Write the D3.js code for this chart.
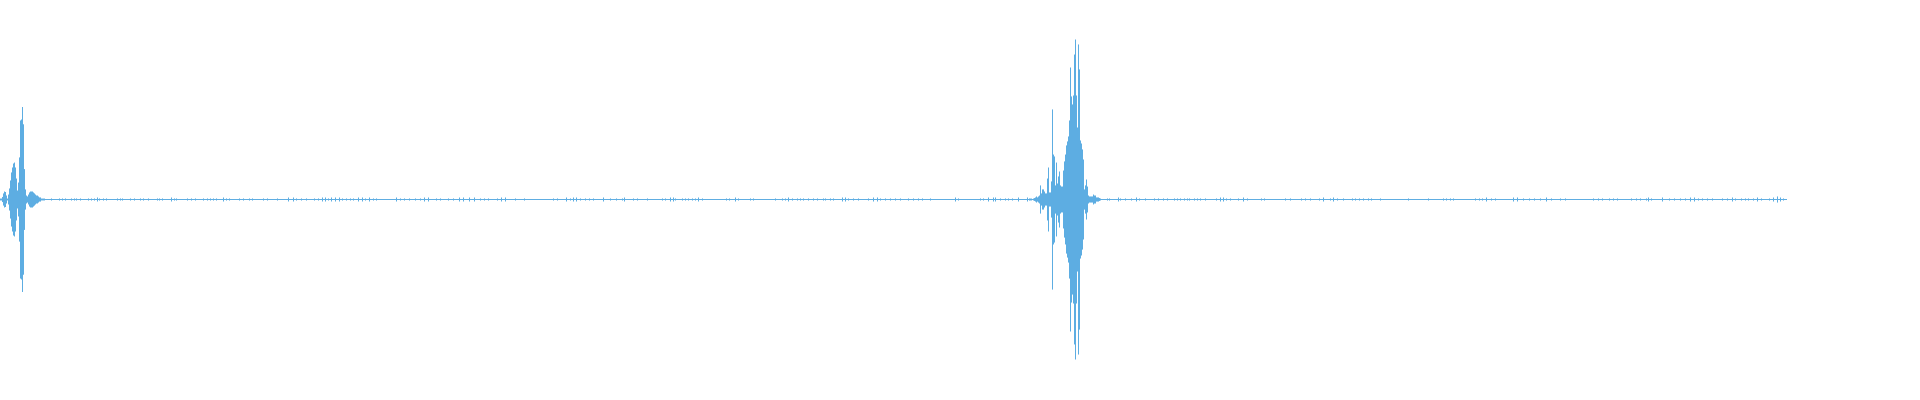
<!DOCTYPE html>
<html>
<head>
<meta charset="utf-8">
<script src="https://cdn.jsdelivr.net/npm/d3@7/dist/d3.min.js"></script>
<style>
html,body{margin:0;padding:0;background:#fff;}
svg{display:block;}
</style>
</head>
<body>
<svg id="chart" width="1920" height="400"></svg>
<script>
// ---- data (normalised peak amplitude per sample column) ----
const sampleCount = 1787;
const baseAmp = 0.0031;

const burst1Start = 0;
const burst1 = [0.006,0.006,0.016,0.038,0.05,0.047,0.025,0.006,0.031,0.069,0.119,0.169,0.2,0.225,0.231,0.2,0.131,0.056,0.106,0.263,0.494,0.5,0.578,0.47,0.19,0.063,0.025,0.019,0.031,0.044,0.05,0.05,0.05,0.044,0.038,0.031,0.025,0.025,0.019,0.013,0.013,0.006,0.006,0.006,0.006,0.003];

const burst2Start = 1030;
const burst2 = [0.006,0.006,0.003,0.006,0.009,0.013,0.019,0.013,0.019,0.025,0.088,0.038,0.063,0.063,0.05,0.038,0.038,0.131,0.2,0.044,0.044,0.113,0.563,0.281,0.269,0.088,0.231,0.1,0.144,0.175,0.088,0.081,0.081,0.181,0.238,0.281,0.338,0.363,0.394,0.494,0.825,0.644,0.594,0.65,0.906,1.0,0.65,0.45,0.969,0.813,0.369,0.35,0.313,0.25,0.063,0.088,0.125,0.081,0.025,0.019,0.019,0.019,0.019,0.031,0.025,0.025,0.013,0.013,0.013,0.009,0.006];

// small noise bumps along the quiet stretches: [sample, amplitude]
const noise = [
[51,.0065],[59,.0065],[62,.0065],[65,.0065],[71,.0065],[74,.0065],[76,.0065],[80,.0065],[88,.0065],[91,.0065],[94,.0065],[97,.0125],[99,.0065],[103,.0065],[106,.0065],[117,.0065],[120,.0065],[122,.0065],[130,.0065],[134,.0065],[140,.0065],[143,.0065],[148,.0065],[157,.0065],[159,.0065],[162,.0065],[171,.0125],[174,.0065],[176,.0065],[187,.0065],[191,.0065],[195,.0065],[203,.0065],[207,.0065],[210,.0065],[213,.0065],[216,.0065],[223,.0125],[226,.0065],[229,.0065],[239,.0065],[243,.0065],[249,.0065],[252,.0065],[263,.0065],[267,.0065],[277,.0065],[288,.0125],[293,.0125],[296,.0065],[301,.0065],[306,.0065],[314,.0065],[318,.0065],[322,.0125],[325,.0125],[328,.0065],[331,.0125],[335,.0125],[339,.0125],[342,.0065],[346,.0065],[350,.0065],[353,.0065],[358,.0125],[362,.0125],[365,.0065],[369,.0125],[373,.0065],[376,.0065],[396,.0125],[400,.0065],[404,.0065],[409,.0065],[415,.0065],[420,.0065],[424,.0125],[428,.0125],[436,.0065],[440,.0065],[448,.0065],[453,.0065],[459,.0125],[463,.0125],[469,.0125],[474,.0125],[480,.0065],[484,.0065],[488,.0065],[497,.0065],[501,.0125],[505,.0125],[515,.0065],[524,.0065],[553,.0065],[557,.0065],[566,.0125],[570,.0065],[573,.0125],[576,.0125],[580,.0065],[585,.0065],[589,.0065],[593,.0065],[603,.0125],[610,.0065],[616,.0065],[622,.0065],[624,.0125],[633,.0065],[637,.0065],
[647,.0065],[662,.0065],[665,.0065],[670,.0125],[673,.0125],[675,.0065],[682,.0065],[685,.0065],[688,.0065],[692,.0065],[695,.0065],[698,.0125],[702,.0065],[726,.0065],[729,.0065],[735,.0125],[738,.0065],[750,.0065],[753,.0065],[775,.0065],[782,.0065],[785,.0065],[788,.0125],[792,.0065],[797,.0065],[800,.0065],[803,.0065],[808,.0065],[813,.0065],[817,.0065],[823,.0065],[825,.0065],[830,.0065],[833,.0065],[842,.0125],[845,.0125],[848,.0065],[853,.0065],[858,.0065],[868,.0065],[873,.0125],[877,.0125],[880,.0065],[885,.0065],[890,.0065],[895,.0065],[900,.0065],[908,.0065],[913,.0065],[918,.0065],[922,.0065],[930,.0065],[955,.0125],[958,.0065],[980,.0065],[983,.0065],[988,.0125],[993,.0125],[995,.0125],[1000,.0065],[1005,.0065],[1008,.0065],[1012,.0065],[1018,.0125],[1027,.0125],[1029,.0065],
[1107,.0065],[1109,.0065],[1118,.0125],[1120,.0065],[1125,.0065],[1131,.0065],[1136,.0125],[1139,.0065],[1145,.0065],[1154,.0065],[1158,.0065],[1163,.0065],[1167,.0065],[1174,.0065],[1177,.0065],[1180,.0065],[1184,.0065],[1187,.0065],[1189,.0065],[1194,.0065],[1197,.0065],[1200,.0065],[1205,.0065],[1216,.0065],[1220,.0125],[1223,.0125],[1226,.0065],[1230,.0065],[1238,.0065],[1243,.0125],[1247,.0065],[1261,.0065],[1264,.0065],[1285,.0065],[1290,.0065],[1301,.0065],[1305,.0065],[1310,.0065],[1319,.0065],[1323,.0125],[1330,.0065],[1333,.0125],[1337,.0065],[1343,.0065],[1352,.0065],[1355,.0065],[1359,.0065],[1363,.0065],[1368,.0065],[1371,.0065],[1380,.0065],[1408,.0065],[1428,.0065],[1443,.0065],[1446,.0065],[1450,.0065],[1453,.0065],[1475,.0065],[1479,.0065],[1482,.0065],[1486,.0125],[1491,.0065],[1495,.0065],[1513,.0125],[1517,.0125],[1523,.0065],[1529,.0065],[1534,.0065],[1540,.0065],[1546,.0125],[1551,.0065],[1560,.0065],[1565,.0065],[1593,.0065],[1598,.0065],[1602,.0065],[1609,.0065],[1613,.0065],[1617,.0065],[1631,.0065],[1636,.0065],[1640,.0065],[1646,.0065],[1648,.0125],[1651,.0065],[1662,.0125],[1669,.0065],[1674,.0065],[1680,.0065],[1685,.0065],[1690,.0125],[1694,.0125],[1698,.0065],
[1702,.0065],[1707,.0065],[1712,.0065],[1722,.0065],[1727,.0065],[1732,.0125],[1735,.0065],[1741,.0065],[1745,.0065],[1748,.0065],[1753,.0065],[1757,.0125],[1761,.0065],[1769,.0065],[1773,.0125],[1777,.019],[1780,.0125],[1783,.0065]
];

// ---- assemble per-column peaks ----
const peaks = new Array(sampleCount).fill(baseAmp);
burst1.forEach((v, i) => { peaks[burst1Start + i] = Math.max(v, baseAmp); });
burst2.forEach((v, i) => { peaks[burst2Start + i] = Math.max(v, baseAmp); });
noise.forEach(([i, v]) => { if (i < sampleCount) peaks[i] = Math.max(peaks[i], v); });
const columns = peaks.map((v, i) => ({ i, max: v, min: -v }));

// ---- scales ----
const x = d3.scaleLinear().domain([0, sampleCount]).range([0, 1787]);
const y = d3.scaleLinear().domain([-1, 1]).range([359.5, 39.5]);

const svg = d3.select("#chart");
svg.append("rect").attr("width", 1920).attr("height", 400).attr("fill", "#ffffff");

svg.append("g")
  .selectAll("rect")
  .data(columns)
  .join("rect")
  .attr("x", d => x(d.i))
  .attr("width", d => x(d.i + 1) - x(d.i))
  .attr("y", d => y(d.max))
  .attr("height", d => y(d.min) - y(d.max))
  .attr("fill", "#5dade2");
</script>
</body>
</html>
